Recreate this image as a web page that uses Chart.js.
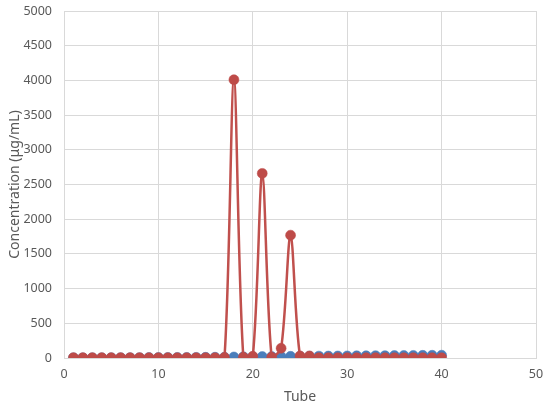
<!DOCTYPE html>
<html><head><meta charset="utf-8">
<script src="https://cdn.jsdelivr.net/npm/chart.js@4/dist/chart.umd.min.js"></script>
<style>html,body{margin:0;padding:0;background:#fff}#wrap{width:550px;height:409px}</style>
</head><body><div id="wrap"><canvas id="c" width="550" height="409"></canvas></div>
<script>
const tubes = [1,2,3,4,5,6,7,8,9,10,11,12,13,14,15,16,17,18,19,20,21,22,23,24,25,26,27,28,29,30,31,32,33,34,35,36,37,38,39,40];
const seriesA = [2,2,3,3,4,4,5,5,6,6,7,8,8,9,10,11,12,15,17,18,20,20,22,24,25,26,27,28,29,30,31,32,33,34,35,36,37,38,39,40];
const seriesB = [5,5,5,5,5,5,5,5,5,5,5,5,5,5,5,5,8,4010,10,25,2660,10,140,1770,30,30,5,5,5,5,5,5,5,5,5,5,5,5,5,5];
const xTicks = [0,10,20,30,40,50];
const yTicks = [0,500,1000,1500,2000,2500,3000,3500,4000,4500,5000];
const toPts = v => tubes.map((t,i)=>({x:t,y:v[i]}));
const font = "'Noto Sans', 'Open Sans', sans-serif";
new Chart(document.getElementById('c'), {
  type: 'line',
  data: { datasets: [
    { data: toPts(seriesA), borderColor:'#4f81bd', backgroundColor:'#4f81bd', pointBackgroundColor:'#4a7ebb', pointBorderColor:'#4a7ebb', borderWidth:2.5, pointRadius:5, pointBorderWidth:0.5, tension:0.3, order:2 },
    { data: toPts(seriesB), borderColor:'#c0504d', backgroundColor:'#c0504d', pointBackgroundColor:'#be4b48', pointBorderColor:'#be4b48', borderWidth:2.5, pointRadius:5, pointBorderWidth:0.5, tension:0.3, order:1 }
  ]},
  options: {
    responsive:false, animation:false,
    layout:{padding:{top:11,right:14,left:3,bottom:0}},
    plugins:{legend:{display:false},tooltip:{enabled:false}},
    scales:{
      x:{type:'linear',min:0,max:50,
        afterBuildTicks:s=>{s.ticks=xTicks.map(v=>({value:v}));},
        afterFit:s=>{s.height=51;s.paddingLeft=0;s.paddingRight=0;},
        grid:{color:'#d9d9d9',lineWidth:1,drawTicks:false},
        border:{color:'#d9d9d9'},
        ticks:{color:'#595959',font:{family:font,size:12.5},padding:9,maxRotation:0,callback:v=>String(v)},
        title:{display:true,text:'Tube',color:'#595959',font:{family:font,size:14},padding:{top:0}}
      },
      y:{min:0,max:5000,
        afterBuildTicks:s=>{s.ticks=yTicks.map(v=>({value:v}));},
        afterFit:s=>{s.width=61;s.paddingTop=0;s.paddingBottom=0;},
        grid:{color:'#d9d9d9',lineWidth:1,drawTicks:false},
        border:{color:'#d9d9d9'},
        ticks:{color:'#595959',font:{family:font,size:12.5},padding:12,callback:v=>String(v)},
        title:{display:true,text:'Concentration (μg/mL)',color:'#595959',font:{family:font,size:14},padding:{bottom:0}}
      }
    }
  }
});
</script></body></html>
